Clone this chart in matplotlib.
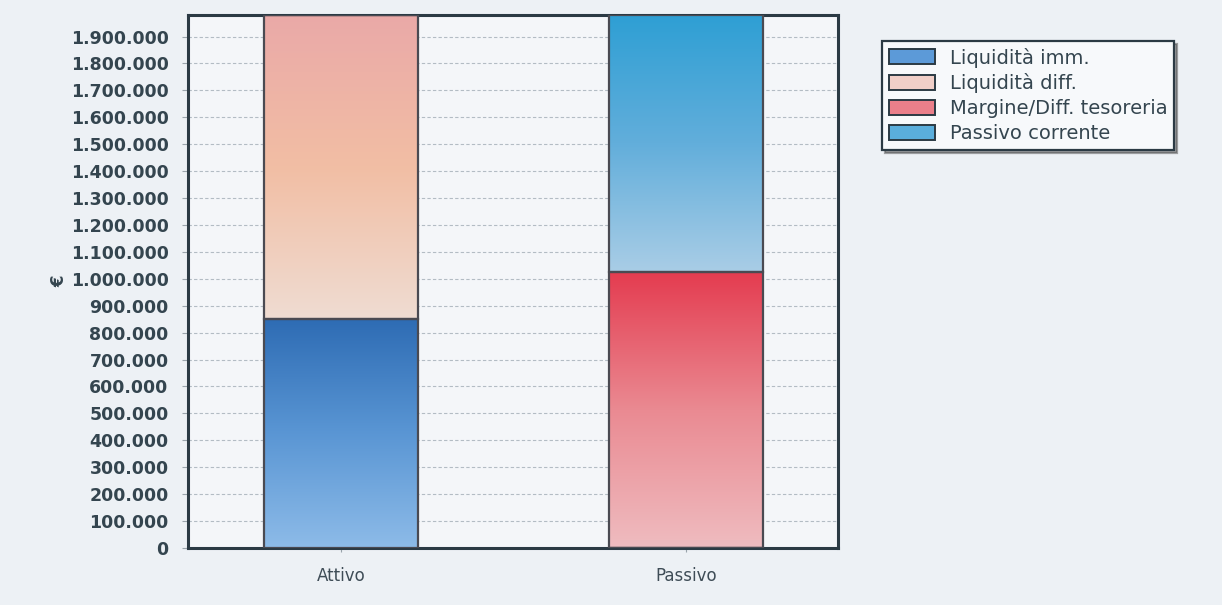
import numpy as np
import matplotlib
matplotlib.use("Agg")
import matplotlib.pyplot as plt
from matplotlib.colors import LinearSegmentedColormap
from matplotlib.patches import Patch
from matplotlib.ticker import FuncFormatter, MultipleLocator

# Stacked composition of assets vs liabilities
categories = ["Attivo", "Passivo"]
series_names = ["Liquidità imm.", "Liquidità diff.", "Margine/Diff. tesoreria", "Passivo corrente"]
liquidita_imm = [850000, 0]
liquidita_diff = [1130000, 0]
margine = [0, 1025000]
passivo_corrente = [0, 955000]
y_max = 1980000

# vertical gradients, listed bottom -> top
gradients = {
    "Liquidità imm.": ["#8dbbe8", "#5a96d4", "#2e6cb4"],
    "Liquidità diff.": ["#efdcd2", "#f2bea4", "#eaa9a8"],
    "Margine/Diff. tesoreria": ["#efbcc0", "#ea8a92", "#e43c50"],
    "Passivo corrente": ["#a9cde6", "#62aedb", "#2e9fd4"],
}
legend_faces = {
    "Liquidità imm.": "#5c9ad8",
    "Liquidità diff.": "#f0cfc8",
    "Margine/Diff. tesoreria": "#ea7f8a",
    "Passivo corrente": "#5aaedc",
}

fig = plt.figure(figsize=(12.22, 6.05), dpi=100, facecolor="#edf1f5")
ax = fig.add_axes([188 / 1222, 1 - 548 / 605, 650 / 1222, 533 / 605])
ax.set_facecolor("#f4f6f9")

x = np.arange(len(categories))
width = 0.445
stack = [liquidita_imm, liquidita_diff, margine, passivo_corrente]
bottom = np.zeros(len(categories))
for name, vals in zip(series_names, stack):
    vals = np.array(vals, dtype=float)
    bars = ax.bar(x, vals, width, bottom=bottom, facecolor="none",
                  edgecolor="#4a4a52", linewidth=1.6, zorder=4)
    cmap = LinearSegmentedColormap.from_list(name, gradients[name])
    grad = np.linspace(0, 1, 256).reshape(-1, 1)
    for p, v in zip(bars.patches, vals):
        if v <= 0:
            continue
        x0, y0 = p.get_x(), p.get_y()
        ax.imshow(grad, cmap=cmap, origin="lower", aspect="auto",
                  extent=(x0, x0 + p.get_width(), y0, y0 + p.get_height()),
                  zorder=3, interpolation="bilinear")
    bottom += vals

ax.set_xlim(-0.443, 1.44)
ax.set_ylim(0, y_max)
ax.yaxis.set_major_locator(MultipleLocator(100000))
ax.yaxis.set_major_formatter(FuncFormatter(lambda v, _: f"{int(v):,}".replace(",", ".")))
ax.set_xticks(x)
ax.set_xticklabels(categories)
ax.grid(axis="y", linestyle=(0, (3, 2)), color="#b3bcc4", linewidth=0.8, zorder=1)
ax.set_axisbelow(True)

for s in ax.spines.values():
    s.set_color("#2b3a44")
    s.set_linewidth(2.2)

ax.tick_params(axis="y", labelsize=12.5, labelcolor="#34454f", length=4, color="#9aa4ac", pad=10)
ax.tick_params(axis="x", labelsize=12, labelcolor="#3e4c56", length=3, color="#9aa4ac", pad=11)
for lbl in ax.get_yticklabels():
    lbl.set_fontweight("bold")

ax.set_ylabel("€", fontsize=12, color="#34454f", labelpad=2, fontweight="bold")

handles = [Patch(facecolor=legend_faces[n], edgecolor="#2b3a44", linewidth=1.4) for n in series_names]
leg = fig.legend(handles, series_names, loc="upper left",
                 bbox_to_anchor=(872 / 1222, 1 - 31 / 605), fontsize=14,
                 frameon=True, fancybox=False, shadow=True, handlelength=2.4,
                 handleheight=0.8, labelspacing=0.3, borderpad=0.35, handletextpad=0.75)
leg.get_frame().set_edgecolor("#2b3a44")
leg.get_frame().set_linewidth(1.6)
leg.get_frame().set_facecolor("#f7f9fb")
for t in leg.get_texts():
    t.set_color("#34454f")

fig.savefig("out.png", dpi=100, facecolor=fig.get_facecolor())
